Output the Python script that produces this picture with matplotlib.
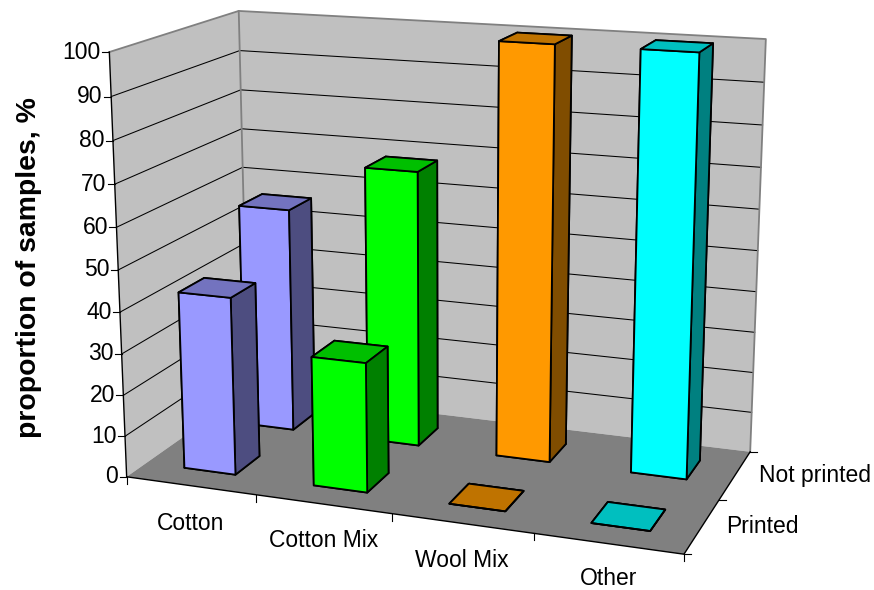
import numpy as np
import matplotlib
matplotlib.use("Agg")
import matplotlib.pyplot as plt
from matplotlib.lines import Line2D
from mpl_toolkits.mplot3d import proj3d
from mpl_toolkits.mplot3d.art3d import Poly3DCollection

categories = ["Cotton", "Cotton Mix", "Wool Mix", "Other"]
series = ["Printed", "Not printed"]
printed = [43, 31, 0, 0]
not_printed = [56, 68, 100, 100]
z_ticks = list(range(0, 101, 10))

front_colors = ["#9999FF", "#00FF00", "#FF9900", "#00FFFF"]
top_colors = ["#7373BF", "#00BF00", "#BF7300", "#00BFBF"]
side_colors = ["#4D4D80", "#008000", "#804D00", "#008080"]

plt.rcParams["font.family"] = ["Liberation Sans", "DejaVu Sans"]

# camera calibration: box corners (category, series, value) -> figure pixels
world = np.array([(0, 0, 0), (4, 0, 0), (4, 2, 0), (0, 2, 0),
                  (0, 0, 100), (0, 2, 100), (4, 2, 100)], float)
pixels = np.array([(126, 477), (684, 554), (750, 452), (249, 391),
                   (110, 52), (238, 11), (766, 39)], float)
A, b = [], []
for (X, Y, Z), (u, v) in zip(world, pixels):
    A.append([X, Y, Z, 1, 0, 0, 0, 0, -u * X, -u * Y, -u * Z])
    A.append([0, 0, 0, 0, X, Y, Z, 1, -v * X, -v * Y, -v * Z])
    b += [u, v]
p = np.linalg.lstsq(np.array(A), np.array(b), rcond=None)[0]
M = np.array([p[:4], p[4:8], [-1, 1, -0.01, 0], [p[8], p[9], p[10], 1.0]])

fig = plt.figure(figsize=(8.74, 5.9), dpi=100)
ax = fig.add_axes([0, 0, 1, 1], projection="3d", computed_zorder=False)
ax.set_proj_type("ortho")  # no clipping to the unit cube: M maps to pixels
ax.get_proj = lambda: M
ax.apply_aspect = lambda position=None: None
ax.set_axis_off()
ax.viewLim.intervalx = (0, 874)
ax.viewLim.intervaly = (590, 0)


def project(x, y, z):
    u, v, _ = proj3d.proj_transform(x, y, z, M)
    return float(u), float(v)


nx, ny, top = len(categories), len(series), 100
walls = [
    ([(0, 0, 0), (0, ny, 0), (0, ny, top), (0, 0, top)], "#C0C0C0"),
    ([(0, ny, 0), (nx, ny, 0), (nx, ny, top), (0, ny, top)], "#C0C0C0"),
    ([(0, 0, 0), (nx, 0, 0), (nx, ny, 0), (0, ny, 0)], "#808080"),
]
for verts, col in walls:
    ax.add_collection3d(Poly3DCollection([verts], facecolors=col,
                                         edgecolors="none", zorder=1))

# gridlines
for z in z_ticks[1:-1]:
    ax.plot([0, 0, nx], [0, ny, ny], [z, z, z], color="black", lw=0.75, zorder=1.5)

# gray wall edges
ax.plot([0, 0, nx, nx], [0, ny, ny, ny], [top, top, top, 0],
        color="#808080", lw=1.3, zorder=1.6)
ax.plot([0, 0], [ny, ny], [0, top], color="#808080", lw=1.3, zorder=1.6)

# black axes
ax.plot([0, 0], [0, 0], [0, top], color="black", lw=1.0, zorder=1.7)
ax.plot([0, nx, nx], [0, 0, ny], [0, 0, 0], color="black", lw=1.0, zorder=1.7)

# ticks and tick labels
for z in z_ticks:
    u, v = project(0, 0, z)
    ax.add_line(Line2D([u - 7, u], [v, v], color="black", lw=0.8, zorder=1.7))
    ax.text2D(u - 8.5, v, str(z), transform=ax.transData, ha="right",
              va="center", fontsize=16.5, color="black", zorder=20)
for i in range(nx + 1):
    u, v = project(i, 0, 0)
    ax.add_line(Line2D([u, u], [v, v + 7], color="black", lw=0.8, zorder=1.7))
for j in range(ny + 1):
    u, v = project(nx, j, 0)
    ax.add_line(Line2D([u, u + 7], [v, v], color="black", lw=0.8, zorder=1.7))
label_drop = [38, 36, 37, 34.5]
for i, name in enumerate(categories):
    u, v = project(i + 0.5, 0, 0)
    ax.text2D(u, v + label_drop[i], name, transform=ax.transData, ha="center",
              va="center", fontsize=16.5, color="black", zorder=20)
for j, name in enumerate(series):
    u, v = project(nx, j + 0.5, 0)
    ax.text2D(u + 23.5, v, name, transform=ax.transData, ha="left",
              va="center", fontsize=16.5, color="black", zorder=20)
ax.text2D(29, 268, "proportion of samples, %", transform=ax.transData,
          rotation=90, ha="center", va="center", fontsize=20.4,
          fontweight="bold", color="black", zorder=20)

# bars, back row first
order = 3
bar_w, bar_d = 0.4, 0.4
for j, values in reversed(list(enumerate([printed, not_printed]))):
    for i, h in enumerate(values):
        cols = [top_colors[i], top_colors[i], front_colors[i], front_colors[i],
                side_colors[i], side_colors[i]]
        poly = ax.bar3d([i + 0.3], [j + 0.3], [0], [bar_w], [bar_d], [h],
                        color=cols, shade=False, edgecolor="black", linewidth=1.3)
        poly.set_zorder(order)
        order += 1

ax.viewLim.intervalx = (0, 874)
ax.viewLim.intervaly = (590, 0)
fig.savefig("out.png", dpi=100)
